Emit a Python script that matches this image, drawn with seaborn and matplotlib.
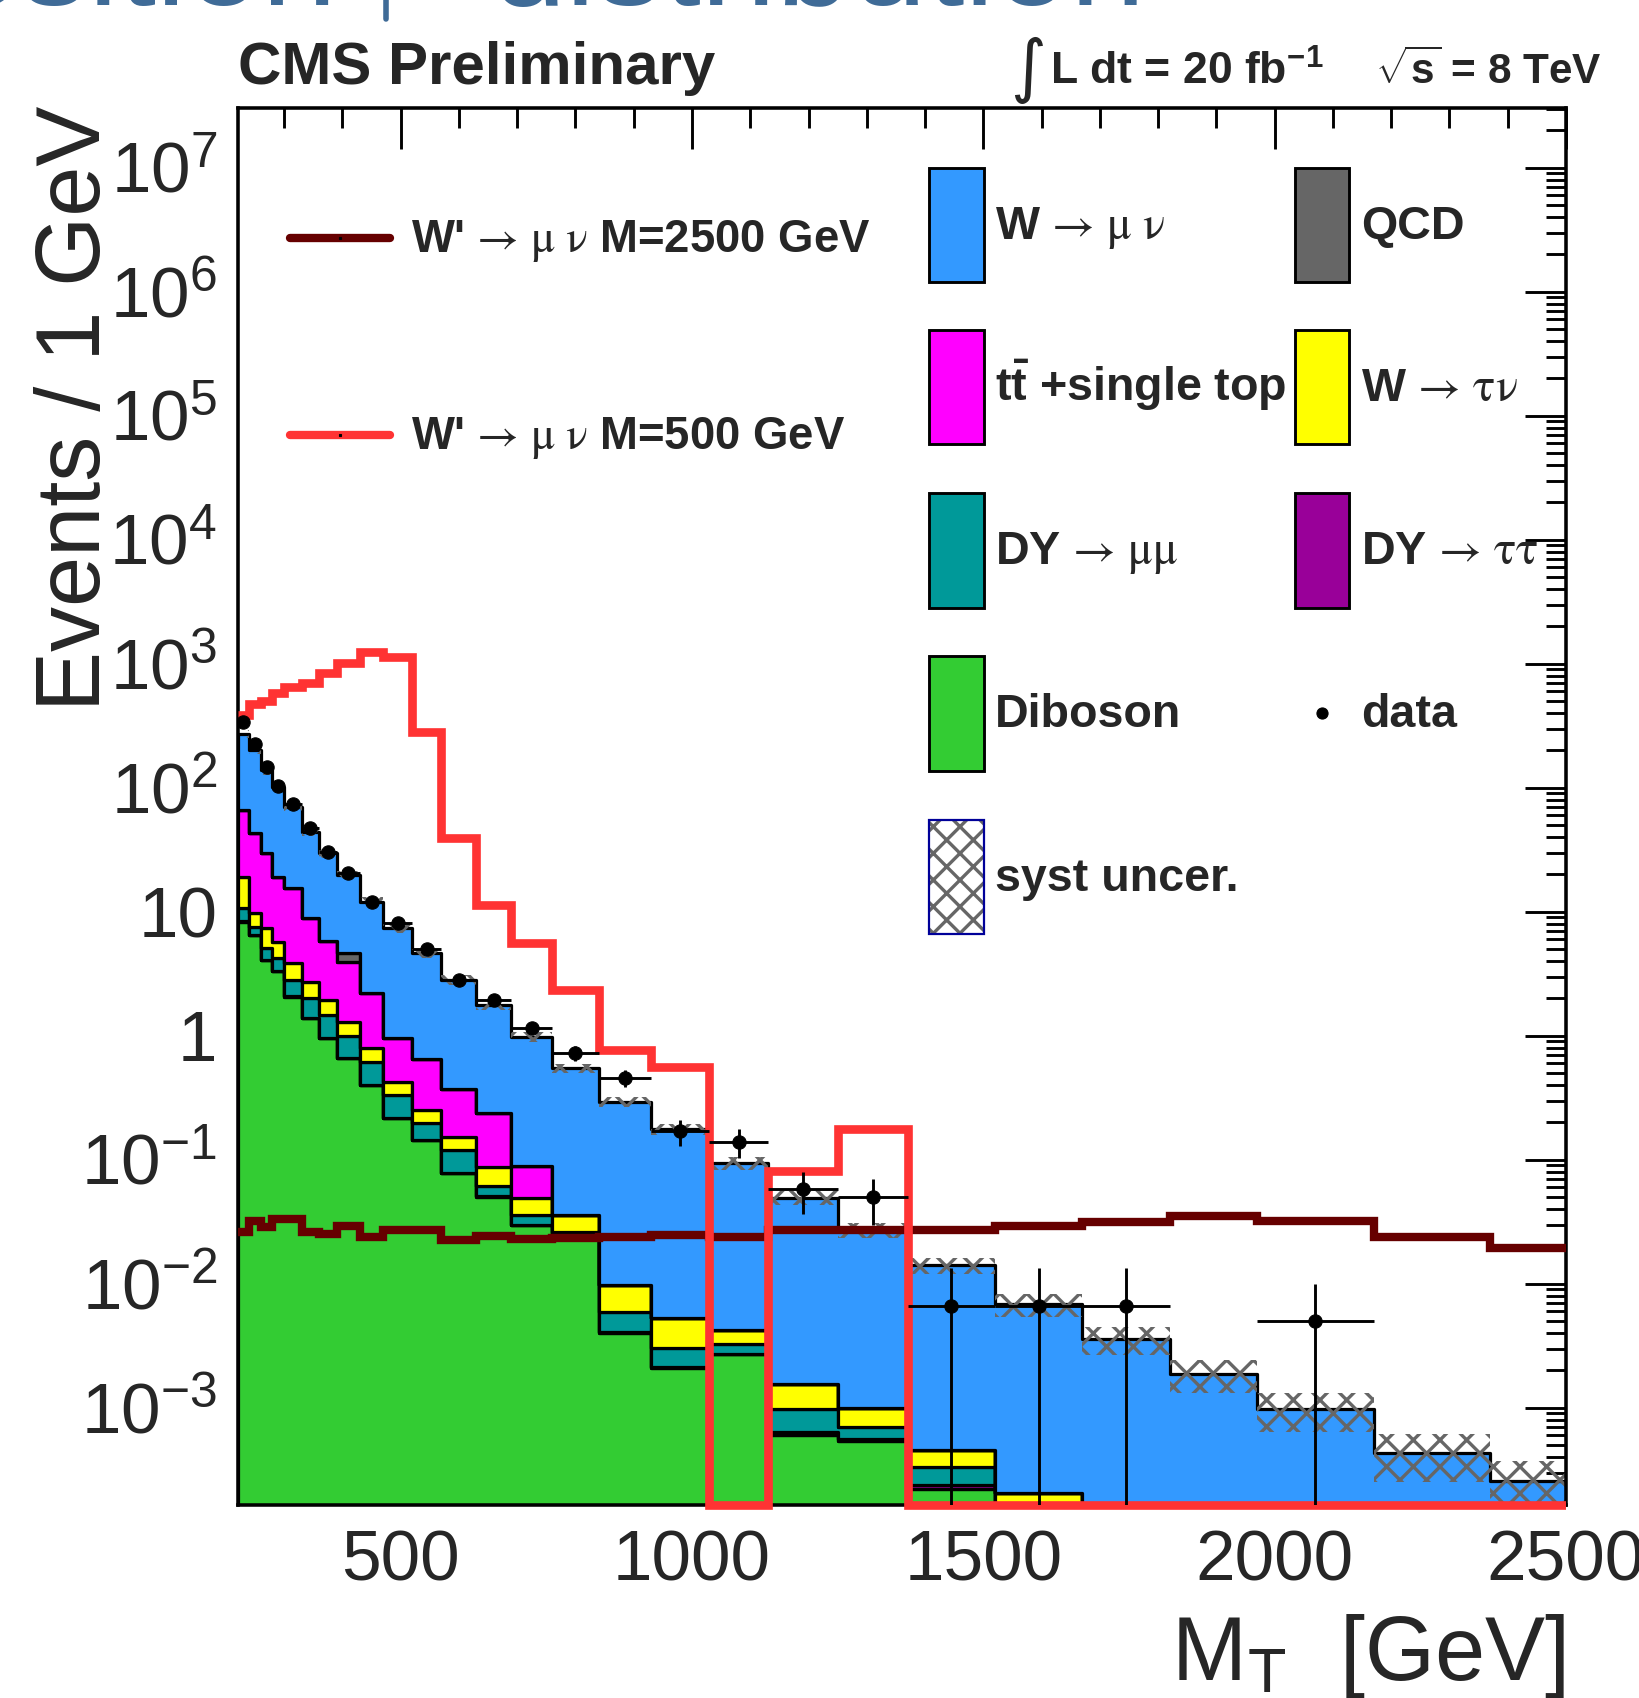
import numpy as np
import pandas as pd
import matplotlib
matplotlib.use("Agg")
import matplotlib.pyplot as plt
import seaborn as sns
from matplotlib.patches import Rectangle
from matplotlib.lines import Line2D
from matplotlib.ticker import MultipleLocator, LogLocator, NullFormatter, FuncFormatter

# ---------------- data (values per GeV) ----------------
bin_edges = [220, 240, 260, 280, 300, 330, 360, 390, 430, 470, 520, 570, 630, 690,
             760, 840, 930, 1030, 1130, 1250, 1370, 1520, 1670, 1820, 1970, 2170, 2370, 2570]

w_munu = [206, 159, 109.4, 83, 55, 35.3, 23.75, 15.18, 9.87, 6.4, 3.97, 2.45, 1.533, 0.891,
          0.511, 0.284, 0.171, 0.0893, 0.048, 0.0262, 0.0137, 0.00666, 0.00356, 0.00188,
          0.00098, 0.000435, 0.000257]
qcd = [0, 0, 0, 0, 0, 0, 0, 0.66, 0, 0, 0, 0, 0, 0,
       0, 0, 0, 0, 0, 0, 0, 0, 0, 0, 0, 0, 0]
ttbar = [47, 33.3, 22.2, 13.3, 11.6, 6.3, 3.9, 2.66, 1.44, 0.533, 0.398, 0.216, 0.15, 0.040,
         0, 0, 0, 0, 0, 0, 0, 0, 0, 0, 0, 0, 0]
w_taunu = [8.2, 2.1, 2.29, 1.54, 1.07, 0.69, 0.48, 0.30, 0.17, 0.094, 0.055, 0.034, 0.0255, 0.0131,
           0.0095, 0.0038, 0.00228, 0.00093, 0.00058, 0.00029, 0.00013, 0.000087, 0, 0, 0, 0, 0]
dy_mumu = [2.45, 1.07, 0.95, 0.885, 0.74, 0.614, 0.511, 0.337, 0.218, 0.116, 0.0523, 0.0416, 0.0108, 0.006,
           0.00115, 0.0018, 0.00092, 0.00055, 0.00033, 0.00014, 0.00009, 0.00004, 0, 0, 0, 0, 0]
dy_tautau = [0.05, 0.03, 0.02, 0.015, 0.01, 0.006, 0.004, 0.003, 0.002, 0.001, 0.0007, 0.0004, 0.0002, 0.0001,
             0.00005, 0.0001, 0.00003, 0.00002, 0.00004, 0.00002, 0.00002, 0, 0, 0, 0, 0, 0]
diboson = [8.3, 6.5, 4.1, 3.3, 2.07, 1.38, 0.955, 0.66, 0.40, 0.216, 0.144, 0.078, 0.0505, 0.0298,
           0.0252, 0.0040, 0.0021, 0.0027, 0.0006, 0.00054, 0.00022, 0.00008, 0, 0, 0, 0, 0]
syst_frac = [0.08, 0.08, 0.08, 0.08, 0.08, 0.08, 0.08, 0.08, 0.09, 0.09, 0.09, 0.09, 0.09, 0.09,
             0.09, 0.09, 0.10, 0.12, 0.13, 0.14, 0.15, 0.21, 0.25, 0.30, 0.35, 0.42, 0.45]
data_counts = [6820, 4500, 2960, 2070, 2208, 1413, 915, 816, 484, 408, 249, 169, 116, 81,
               58, 41, 17, 14, 7, 6, 1, 1, 1, 0, 1, 0, 0]
wprime_500 = [386, 470, 500, 578, 654, 695, 837, 1009, 1253, 1141, 283, 39.1, 11.3, 5.56,
              2.34, 0.767, 0.563, 0, 0.0817, 0.176, 0, 0, 0, 0, 0, 0, 0]
wprime_2500 = [0.0264, 0.0321, 0.0289, 0.0331, 0.0331, 0.0264, 0.0252, 0.0294, 0.0237, 0.0269,
               0.0269, 0.0226, 0.0244, 0.0230, 0.0233, 0.0237, 0.0247, 0.0240, 0.027, 0.027,
               0.027, 0.0292, 0.0317, 0.0352, 0.0323, 0.0237, 0.0193]

process_names = ["W->munu", "QCD", "ttbar", "W->taunu", "DY->mumu", "DY->tautau", "Diboson"]
process_colors = ["#3399FF", "#666666", "#FF00FF", "#FFFF00", "#009999", "#990099", "#33CC33"]

x_range = (220, 2500)
y_range = (10 ** -3.784, 10 ** 7.482)

# ---------------- style ----------------
DPI = 80
W, H = 1639, 1698
sns.set_style("white")
plt.rcParams.update({
    "font.family": ["Liberation Sans", "DejaVu Sans"],
    "mathtext.fontset": "custom",
    "mathtext.rm": "STIXGeneral",
    "mathtext.it": "STIXGeneral:italic",
    "mathtext.bf": "Liberation Sans:bold",
    "mathtext.sf": "Liberation Sans",
    "hatch.color": "#666666",
    "hatch.linewidth": 3.0,
    "axes.linewidth": 3.2,
})


def fx(px):
    return px / W


def fy(py):
    return 1 - py / H


fig = plt.figure(figsize=(W / DPI, H / DPI), dpi=DPI)
fig.patch.set_facecolor("white")
ax = fig.add_axes([fx(237.5), fy(1505), fx(1566) - fx(237.5), fy(108) - fy(1505)])
ax.set_yscale("log")

edges = np.array(bin_edges, dtype=float)
centers = 0.5 * (edges[:-1] + edges[1:])
widths = np.diff(edges)
series = [w_munu, qcd, ttbar, w_taunu, dy_mumu, dy_tautau, diboson]

df = pd.DataFrame({
    "mt": np.tile(centers, len(series)),
    "value": np.concatenate([np.asarray(s, float) for s in series]),
    "process": np.repeat(process_names, len(centers)),
})

sns.histplot(data=df, x="mt", weights="value", hue="process", hue_order=process_names,
             palette=dict(zip(process_names, process_colors)), bins=list(bin_edges),
             multiple="stack", element="step", stat="count", edgecolor="black",
             linewidth=2.9, alpha=1, legend=False, ax=ax)

# systematic band
total = np.sum([np.asarray(s, float) for s in series], axis=0)
sf = np.asarray(syst_frac)
ax.stairs(total * (1 + sf), edges, baseline=total * (1 - sf), fill=True,
          facecolor="none", edgecolor="#666666", hatch="x", linewidth=0, zorder=1.3)

# signals
ax.stairs(wprime_2500, edges, baseline=None, color="#660000", linewidth=7.5, zorder=3.5)
m500_vals = np.asarray(wprime_500, float)
m500_draw = np.where(m500_vals > 0, m500_vals, y_range[0])
m500 = ax.stairs(m500_draw, edges, baseline=None, color="#FF3333", linewidth=7.8, zorder=4)
clip = Rectangle((0, -0.05), 1, 1.1, transform=ax.transAxes, facecolor="none", edgecolor="none")
m500.set_clip_path(clip)

# data
counts = np.asarray(data_counts, float)
mask = counts > 0
dens = counts / widths
err = np.sqrt(counts) / widths
ax.errorbar(centers[mask], dens[mask], xerr=widths[mask] / 2, yerr=err[mask], fmt="o",
            color="black", markersize=12, elinewidth=2.6, capsize=0, zorder=5)

ax.set_xlim(*x_range)
ax.set_ylim(*y_range)
ax.set_xlabel("")
ax.set_ylabel("")

# ticks
ax.xaxis.set_major_locator(MultipleLocator(500))
ax.xaxis.set_minor_locator(MultipleLocator(100))
ax.yaxis.set_major_locator(LogLocator(base=10, numticks=30))
ax.yaxis.set_minor_locator(LogLocator(base=10, subs=np.arange(2, 10), numticks=30))
ax.yaxis.set_minor_formatter(NullFormatter())


def ylab(v, pos):
    e = int(np.round(np.log10(v)))
    if e == 0:
        return "1"
    if e == 1:
        return "10"
    return r"$\mathsf{10^{%d}}$" % e


ax.yaxis.set_major_formatter(FuncFormatter(ylab))
ax.xaxis.set_major_formatter(FuncFormatter(lambda v, p: "%d" % v))
ax.tick_params(which="both", direction="in", top=True, right=True, width=2.6, color="black")
ax.tick_params(which="major", length=37, labelsize=64)
ax.tick_params(axis="x", which="major", pad=22)
ax.tick_params(axis="y", which="major", pad=18)
ax.tick_params(which="minor", length=18)
for s in ax.spines.values():
    s.set_linewidth(3.2)
    s.set_color("black")

# axis titles
fig.text(fx(77), fy(106), "Events / 1 GeV", rotation=90, ha="center", va="top", fontsize=81)
fig.text(fx(1566), fy(1680), r"M$_{\mathsf{T}}$  [GeV]", ha="right", va="baseline", fontsize=81)

# slide title fragment at the very top (cut off)
title_col = "#3F6B97"
fig.text(fx(337), fy(5), "osition", fontsize=122, color=title_col, ha="right", va="baseline")
fig.text(fx(490), fy(5), "distribution", fontsize=122, color=title_col, ha="left", va="baseline")
fig.add_artist(Line2D([fx(386), fx(386)], [fy(-5), fy(19)], color=title_col, lw=5,
                      solid_capstyle="round", transform=fig.transFigure))

# header
fig.text(fx(238), fy(84), "CMS Preliminary", fontsize=54, fontweight="bold", va="baseline")
fig.text(fx(1010), fy(70), "\u222B", fontsize=62, family="DejaVu Sans", va="center", ha="left")
fig.text(fx(1050), fy(84), r"L dt = 20 fb$^{\mathbf{-1}}$", fontsize=40, fontweight="bold", va="baseline")
fig.text(fx(1375), fy(84), r"$\sqrt{\mathbf{s}}$ = 8 TeV", fontsize=38, fontweight="bold", va="baseline")

# left legend (signals)
arrow_mu_nu = r"$\,\rightarrow\,\mathrm{\mu}\ \mathrm{\nu}$"
sig_leg = [("#660000", 238, "W'" + arrow_mu_nu + " M=2500 GeV"),
           ("#FF3333", 435, "W'" + arrow_mu_nu + " M=500 GeV")]
for col, yy, lab in sig_leg:
    fig.add_artist(Line2D([fx(290), fx(390)], [fy(yy), fy(yy)], color=col, lw=7.5,
                          transform=fig.transFigure))
    fig.add_artist(Line2D([fx(340)], [fy(yy)], marker="s", ms=2.5, color="black", lw=0,
                          transform=fig.transFigure))
    fig.text(fx(411), fy(yy + 14), lab, fontsize=41, fontweight="bold", va="baseline", ha="left")

# right legend (stack)
rows = [(167.8, 281.5), (330.2, 443.9), (492.6, 608.4), (656, 770.8), (819.5, 934.3)]
col_x = [(929, 984, 995), (1295, 1349, 1361)]
leg_items = [
    (0, 0, "#3399FF", "W" + arrow_mu_nu),
    (1, 0, "#666666", "QCD"),
    (0, 1, "#FF00FF", r"$\mathbf{t\bar{t}}$ +single top"),
    (1, 1, "#FFFF00", r"W$\,\rightarrow\,\mathrm{\tau\nu}$"),
    (0, 2, "#009999", r"DY$\,\rightarrow\,\mathrm{\mu\mu}$"),
    (1, 2, "#990099", r"DY$\,\rightarrow\,\mathrm{\tau\tau}$"),
    (0, 3, "#33CC33", "Diboson"),
]
for c, r, colr, lab in leg_items:
    x0, x1, tx = col_x[c]
    t, b = rows[r]
    fig.add_artist(Rectangle((fx(x0), fy(b)), fx(x1) - fx(x0), fy(t) - fy(b), facecolor=colr,
                             edgecolor="black", lw=2.6, transform=fig.transFigure))
    fig.text(fx(tx), fy(0.5 * (t + b) + 14), lab, fontsize=42, fontweight="bold", va="baseline")

# syst box
t, b = rows[4]
fig.add_artist(Rectangle((fx(929), fy(b)), fx(984) - fx(929), fy(t) - fy(b), facecolor="white",
                         edgecolor="#666666", hatch="x", lw=0, transform=fig.transFigure))
fig.add_artist(Rectangle((fx(929), fy(b)), fx(984) - fx(929), fy(t) - fy(b), facecolor="none",
                         edgecolor="#000099", lw=2.0, transform=fig.transFigure))
fig.text(fx(995), fy(0.5 * (t + b) + 14), "syst uncer.", fontsize=42, fontweight="bold", va="baseline")

# data entry
t, b = rows[3]
fig.add_artist(Line2D([fx(1322)], [fy(0.5 * (t + b))], marker="o", ms=10, color="black", lw=0,
                      transform=fig.transFigure))
fig.text(fx(1361), fy(0.5 * (t + b) + 14), "data", fontsize=42, fontweight="bold", va="baseline")

fig.savefig("out.png", dpi=DPI, facecolor="white")
